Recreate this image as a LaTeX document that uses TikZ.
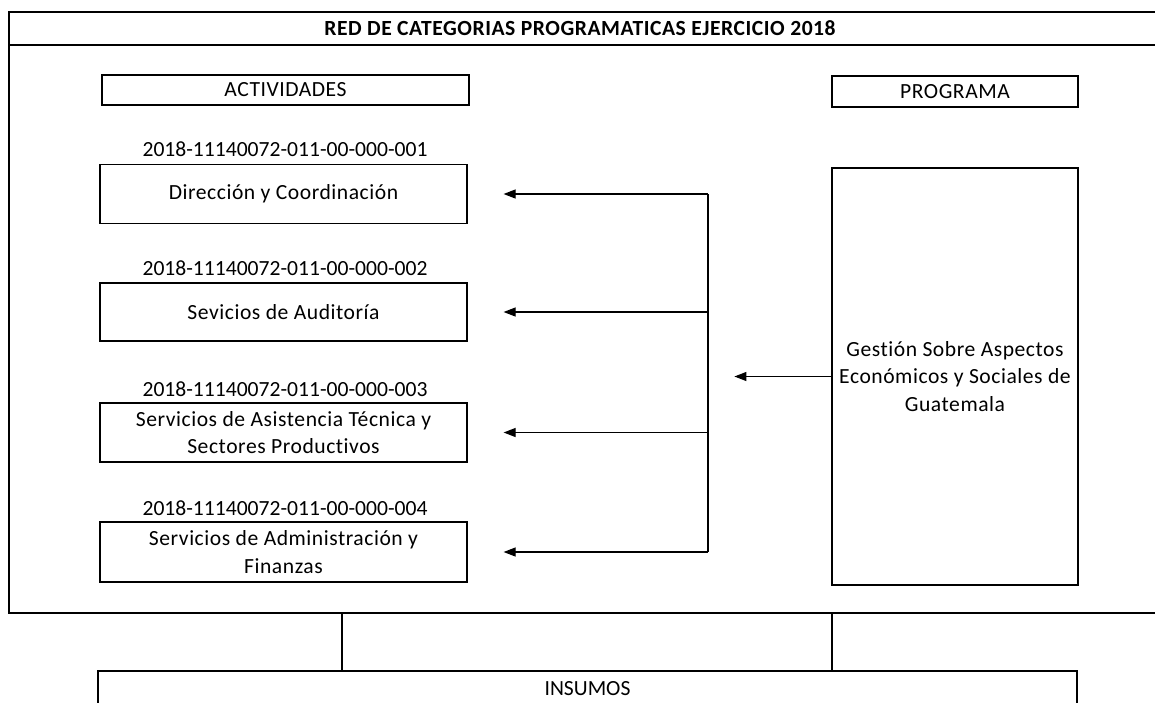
\documentclass[tikz,border=0pt]{standalone}
\usepackage{fontspec}
\setmainfont[Ligatures=NoCommon]{Carlito}
\usetikzlibrary{arrows.meta}
\begin{document}
\begin{tikzpicture}[x=1pt,y=-1pt,
  every node/.style={font=\fontsize{21.6}{27.5}\selectfont, inner sep=0pt},
  box/.style={draw, line width=1.2pt, align=center, font=\fontsize{21.6}{27.5}\selectfont\addfontfeatures{LetterSpace=2.5}},
  line/.style={line width=1.2pt},
  arr/.style={line width=1.2pt, -{Triangle[length=12pt,width=9pt]}}
]
\useasboundingbox (0,0) rectangle (1155,702);
% outer frame (right side beyond the page)
\draw[line] (1160,12) -- (9,12) -- (9,613) -- (1160,613);
\draw[line] (9,45) -- (1160,45);
\node[font=\fontsize{21.6}{27}\selectfont\bfseries\addfontfeatures{LetterSpace=2.5}] (title) at (580,28) {RED DE CATEGORIAS PROGRAMATICAS EJERCICIO 2018};
% headers
\node[box, minimum width=367pt, minimum height=30pt] (act) at (285.5,90) {ACTIVIDADES};
\node[box, minimum width=246pt, minimum height=31pt] (prg) at (955,91.5) {PROGRAMA};
% activities
\node[box, minimum width=367pt, minimum height=59pt] (a1) at (283.5,194) {Dirección y Coordinación};
\node (l1) at (285,149) {2018-11140072-011-00-000-001};
\node[box, minimum width=367pt, minimum height=58pt] (a2) at (283.5,312) {Sevicios de Auditoría};
\node (l2) at (285,268) {2018-11140072-011-00-000-002};
\node[box, minimum width=367pt, minimum height=59pt] (a3) at (283.5,432.5) {Servicios de Asistencia Técnica y\\Sectores Productivos};
\node (l3) at (285,389) {2018-11140072-011-00-000-003};
\node[box, minimum width=367pt, minimum height=60pt] (a4) at (283.5,552) {Servicios de Administración y\\Finanzas};
\node (l4) at (285,508) {2018-11140072-011-00-000-004};
% program box
\node[box, minimum width=246pt, minimum height=417pt] (p) at (955,376.5) {Gestión Sobre Aspectos\\Económicos y Sociales de\\Guatemala};
% bus and arrows
\coordinate (b1) at (708,0 |- a1.east);
\coordinate (b2) at (708,0 |- a2.east);
\coordinate (b3) at (708,0 |- a3.east);
\coordinate (b4) at (708,0 |- a4.east);
\draw[line] (b1) -- (b4);
\draw[arr] (b1) -- ([xshift=36pt]a1.east);
\draw[arr] (b2) -- ([xshift=36pt]a2.east);
\draw[arr] (b3) -- ([xshift=36pt]a3.east);
\draw[arr] (b4) -- ([xshift=36pt]a4.east);
\draw[arr] (p.west) -- ++(-97,0);
% insumos
\node[draw, line width=1.2pt, minimum width=979pt, minimum height=60pt] (ins) at (587.5,701) {};
\node (inst) at (587.5,689) {INSUMOS};
\coordinate (f1) at (342,613);
\coordinate (f2) at (832,613);
\draw[line] (f1) -- (f1 |- ins.north);
\draw[line] (f2) -- (f2 |- ins.north);
\end{tikzpicture}
\end{document}
